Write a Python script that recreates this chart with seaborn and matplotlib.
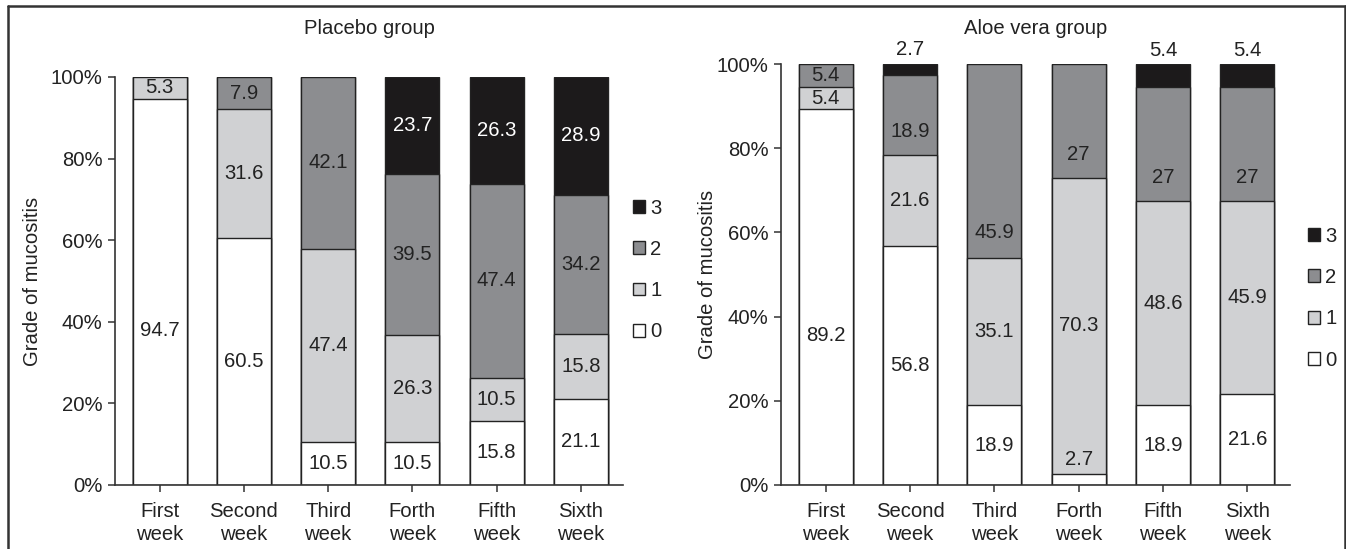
import matplotlib.pyplot as plt
import numpy as np
import seaborn as sns
from matplotlib.lines import Line2D
from matplotlib.patches import Patch

weeks = ["First\nweek", "Second\nweek", "Third\nweek", "Forth\nweek", "Fifth\nweek", "Sixth\nweek"]
grades = ["0", "1", "2", "3"]

placebo_0 = [94.7, 60.5, 10.5, 10.5, 15.8, 21.1]
placebo_1 = [5.3, 31.6, 47.4, 26.3, 10.5, 15.8]
placebo_2 = [0, 7.9, 42.1, 39.5, 47.4, 34.2]
placebo_3 = [0, 0, 0, 23.7, 26.3, 28.9]

aloe_0 = [89.2, 56.8, 18.9, 2.7, 18.9, 21.6]
aloe_1 = [5.4, 21.6, 35.1, 70.3, 48.6, 45.9]
aloe_2 = [5.4, 18.9, 45.9, 27, 27, 27]
aloe_3 = [0, 2.7, 0, 0, 5.4, 5.4]

colors = ["#ffffff", "#d0d1d3", "#8c8d90", "#1c1a1b"]
ink = "#222222"
FS = 14.6

# label nudges (in % units) where the original labels sit off-centre
nudges = {
    ("placebo", 0, 0): -9.5,
    ("aloe", 0, 0): -9.0,
    ("aloe", 1, 2): -4.0,
    ("aloe", 2, 2): -17.0,
    ("aloe", 3, 2): -8.0,
    ("aloe", 4, 2): -8.0,
    ("aloe", 5, 2): -8.0,
}

sns.set_style("white")
plt.rcParams["font.family"] = ["Liberation Sans", "DejaVu Sans"]
plt.rcParams["text.color"] = ink

fig = plt.figure(figsize=(13.46, 5.49), dpi=100)
W, H = 1346, 549


def add_axes(x0, x1, ytop, ybot):
    return fig.add_axes([x0 / W, 1 - ybot / H, (x1 - x0) / W, (ybot - ytop) / H])


def draw_panel(ax, name, series, legend_anchor, ylabel_x):
    data = np.array(series)
    cum = np.cumsum(data, axis=0)
    x = np.arange(len(weeks))
    # overlap cumulative bars, tallest first
    for g in range(len(grades) - 1, -1, -1):
        sns.barplot(x=weeks, y=cum[g], color=colors[g], saturation=1, width=0.64,
                    edgecolor="#222222", linewidth=1.0, errorbar=None, ax=ax)
    for g in range(len(grades)):
        for i in range(len(weeks)):
            v = data[g, i]
            if v <= 0:
                continue
            top = cum[g, i]
            outside = v < 4 or (g == 3 and v < 6)
            if outside:
                y = top + 3.4
            else:
                y = top - v / 2 + nudges.get((name, i, g), 0)
            color = "white" if (g == 3 and not outside) else ink
            ax.text(x[i], y, f"{v:g}", ha="center", va="center", fontsize=FS,
                    color=color, clip_on=False)

    ax.set_xlim(-0.53, 5.5)
    ax.set_ylim(0, 100)
    ax.set_yticks(range(0, 101, 20))
    ax.set_yticklabels([f"{v}%" for v in range(0, 101, 20)])
    ax.set_xticks([5.5], minor=True)
    for s in ["top", "right"]:
        ax.spines[s].set_visible(False)
    for s in ["left", "bottom"]:
        ax.spines[s].set_color("#333333")
        ax.spines[s].set_linewidth(1.2)
    ax.tick_params(axis="both", which="both", direction="out", length=5, width=1.1,
                   color="#333333", labelsize=FS, labelcolor=ink, pad=4)
    ax.tick_params(axis="y", left=True)
    ax.tick_params(axis="x", bottom=True, pad=7)
    for lbl in ax.get_xticklabels():
        lbl.set_linespacing(1.3)
    ax.set_xlabel("")
    ax.set_ylabel("Grade of mucositis", fontsize=FS, color=ink)
    ax.yaxis.set_label_coords(ylabel_x, 0.5)

    handles = [Patch(facecolor=colors[g], edgecolor="#222222", linewidth=1.0)
               for g in range(len(grades) - 1, -1, -1)]
    ax.legend(handles, grades[::-1], loc="center left", bbox_to_anchor=legend_anchor,
              frameon=False, fontsize=FS, handlelength=0.6, handleheight=0.6,
              handletextpad=0.25, labelspacing=1.1, borderpad=0, borderaxespad=0)


ax1 = add_axes(115, 623, 77, 485)
ax2 = add_axes(781, 1289.5, 64, 485)

draw_panel(ax1, "placebo", [placebo_0, placebo_1, placebo_2, placebo_3], (1.02, 0.527), -0.143)
draw_panel(ax2, "aloe", [aloe_0, aloe_1, aloe_2, aloe_3], (1.036, 0.444), -0.125)

fig.text(369.5 / W, 1 - 28 / H, "Placebo group", ha="center", va="center", fontsize=FS)
fig.text(1036 / W, 1 - 28 / H, "Aloe vera group", ha="center", va="center", fontsize=FS)

# outer frame (open at the bottom)
frame = dict(color="#333333", linewidth=1.8, transform=fig.transFigure)
fig.add_artist(Line2D([8 / W, 8 / W], [0, 1 - 6 / H], **frame))
fig.add_artist(Line2D([8 / W, 1345 / W], [1 - 6 / H, 1 - 6 / H], **frame))
fig.add_artist(Line2D([1345 / W, 1345 / W], [0, 1 - 6 / H], **frame))

fig.savefig("out.png", dpi=100)
